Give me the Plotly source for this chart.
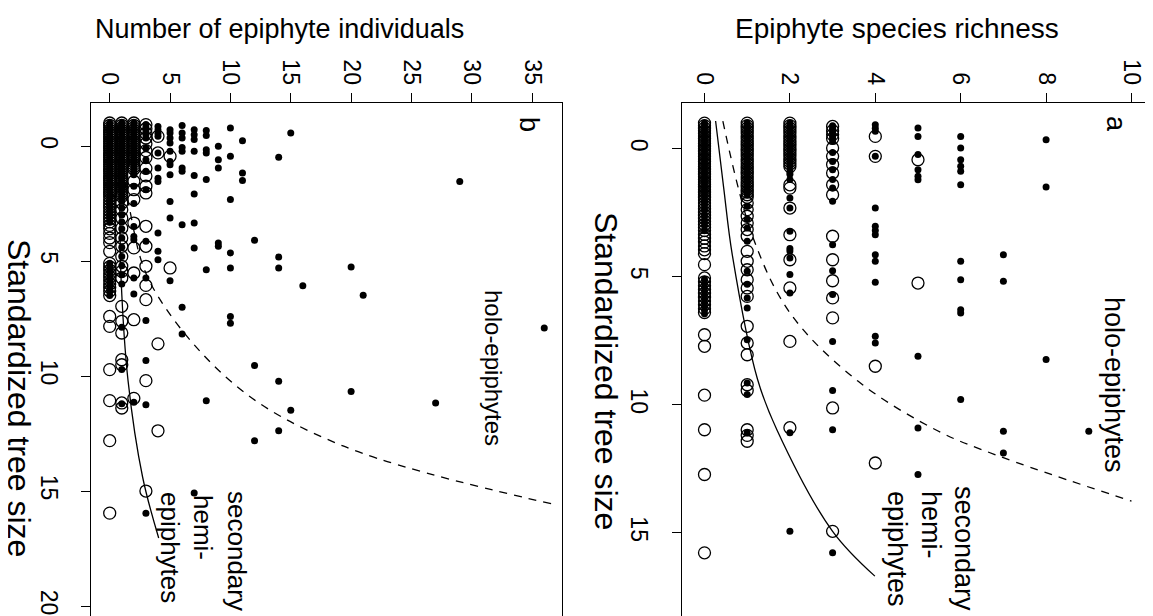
import plotly.graph_objects as go

# ---------------- data ----------------
# Panel a: epiphyte species richness vs standardized tree size
# each entry: (richness, [tree sizes])
a_holo_cols = [
    (0, [-1.0, -0.9, -0.8, -0.7, -0.6, -0.5, -0.4, -0.3, -0.2, -0.1, 0.0, 0.1, 0.2, 0.3, 0.4, 0.5, 0.6, 0.7, 0.8, 0.9,
         1.0, 1.1, 1.2, 1.3, 1.4, 1.5, 1.6, 1.7, 1.8, 1.9, 2.05, 2.2, 2.4, 2.6, 2.8, 3.0, 3.2,
         5.1, 5.25, 5.4, 5.55, 5.7, 5.85, 6.0, 6.15, 6.3, 6.45]),
    (1, [-1.0, -0.9, -0.8, -0.7, -0.6, -0.5, -0.4, -0.3, -0.2, -0.1, 0.0, 0.1, 0.2, 0.3, 0.4, 0.5, 0.6, 0.7, 0.8, 0.9,
         1.0, 1.1, 1.2, 1.3, 1.4, 1.5, 1.6, 1.7, 1.8, 2.25, 2.75, 3.1, 3.62, 4.79, 5.3, 5.83, 6.22, 7.46, 9.15, 9.6, 11.1]),
    (2, [-1.0, -0.9, -0.8, -0.7, -0.6, -0.5, -0.4, -0.3, -0.2, -0.1, 0.0, 0.1, 0.2, 0.3, 0.4, 0.5, 0.6, 0.7, 0.9,
         1.0, 1.2, 1.93, 2.32, 3.23, 3.9, 4.0, 4.27, 4.92, 5.64, 11.1, 14.95]),
    (3, [-0.9, -0.8, -0.7, -0.6, -0.5, -0.4, -0.3, 0.15, 0.5, 0.82, 1.2, 1.54, 2.05, 3.75, 4.77, 5.7, 7.53, 9.45,
         10.98, 15.79]),
    (4, [-0.94, -0.8, -0.68, 0.3, 2.32, 3.03, 3.2, 3.36, 4.14, 4.4, 5.22, 7.33, 7.59]),
    (5, [-0.81, -0.48, 0.23, 0.82, 1.08, 1.21, 8.11, 10.91, 12.73]),
    (6, [-0.48, -0.03, 0.43, 0.69, 0.88, 1.41, 4.4, 5.12, 6.29, 6.42, 9.8]),
    (7, [4.14, 5.18, 11.04, 11.89]),
    (8, [-0.35, 1.5, 8.24]),
    (9, [11.04]),
]
a_hemi_cols = [
    (0, [-1.0, -0.9, -0.8, -0.7, -0.6, -0.5, -0.4, -0.3, -0.2, -0.1, 0.0, 0.1, 0.2, 0.3, 0.4, 0.5, 0.6, 0.7, 0.8, 0.9,
         1.0, 1.1, 1.2, 1.3, 1.4, 1.5, 1.6, 1.7, 1.8, 1.9, 2.0, 2.12, 2.24, 2.36, 2.48, 2.6, 2.72, 2.84, 2.96, 3.08,
         3.2, 3.35, 3.5, 3.65, 3.8, 3.95, 4.1, 4.53, 5.05, 5.2, 5.35, 5.5, 5.65, 5.8, 5.95, 6.1, 6.25, 6.4, 7.27,
         7.72, 9.63, 10.98, 12.73, 15.79]),
    (1, [-1.0, -0.9, -0.8, -0.7, -0.6, -0.5, -0.4, -0.3, -0.2, -0.1, 0.0, 0.1, 0.2, 0.3, 0.4, 0.5, 0.6, 0.7, 0.8, 0.9,
         1.0, 1.1, 1.2, 1.3, 1.4, 1.5, 1.6, 1.7, 1.8, 1.9, 2.12, 2.38, 2.64, 2.9, 3.16, 3.42, 4.01, 4.4, 4.73, 5.12,
         5.44, 5.77, 6.94, 7.59, 8.05, 9.22, 9.45, 10.98, 11.2, 11.43]),
    (2, [-1.0, -0.9, -0.8, -0.7, -0.6, -0.5, -0.4, -0.3, -0.2, -0.1, 0.0, 0.1, 0.2, 0.3, 0.4, 0.5, 0.6, 0.7,
         1.41, 1.54, 2.32, 3.36, 4.34, 5.44, 7.53, 10.9]),
    (3, [-0.87, -0.7, -0.55, -0.4, -0.03, 0.3, 0.62, 0.95, 1.41, 1.8, 3.42, 4.34, 5.16, 5.83, 6.61, 10.13, 14.95]),
    (4, [-0.48, 0.3, 8.5, 12.28]),
    (5, [0.43, 5.25]),
]

# Panel b: number of epiphyte individuals vs standardized tree size
b_holo_cols = [
    (0, [-1.0, -0.9, -0.8, -0.7, -0.6, -0.5, -0.4, -0.3, -0.2, -0.1, 0.0, 0.1, 0.2, 0.3, 0.4, 0.5, 0.6, 0.7, 0.8, 0.9,
         1.0, 1.1, 1.2, 1.3, 1.4, 1.5, 1.6, 1.7, 1.8, 1.9, 2.0, 2.1, 2.25, 2.4, 2.55, 2.7, 2.85, 3.0, 3.15, 3.3,
         5.1, 5.25, 5.4, 5.55, 5.7, 5.85, 6.0, 6.15, 6.3, 6.5]),
    (1, [-1.0, -0.9, -0.8, -0.7, -0.6, -0.5, -0.4, -0.3, -0.2, -0.1, 0.0, 0.1, 0.2, 0.3, 0.4, 0.5, 0.6, 0.7, 0.8, 0.9,
         1.0, 1.1, 1.2, 1.3, 1.4, 1.5, 1.6, 1.7, 1.8, 1.9, 2.0, 2.1, 2.2, 2.4, 2.7, 3.0, 3.3, 3.6, 4.0, 4.4, 4.8,
         5.2, 5.6, 6.0, 7.88, 9.72, 11.2]),
    (2, [-1.0, -0.9, -0.8, -0.7, -0.6, -0.5, -0.4, -0.3, -0.2, -0.1, 0.0, 0.1, 0.2, 0.3, 0.4, 0.5, 0.6, 0.7, 0.8, 0.9,
         1.0, 1.1, 1.2, 1.25, 1.75, 2.5, 3.5, 3.93, 4.07, 5.74, 6.43, 11.14]),
    (3, [-0.93, -0.8, -0.65, -0.5, -0.35, 0.1, 0.6, 1.1, 1.9, 4.14, 5.74, 7.59, 9.33, 11.25, 15.96]),
    (4, [-0.85, -0.7, -0.55, -0.42, 0.3, 0.96, 1.4, 1.54, 3.78, 4.58, 4.94]),
    (5, [-0.71, -0.57, -0.35, -0.13, 0.23, 0.67, 0.81, 1.25, 2.41, 3.13, 5.86]),
    (6, [-0.89, -0.57, -0.35, 0.07, 0.23, 0.96, 1.1, 3.42, 7.01, 8.17]),
    (7, [-0.71, -0.49, -0.28, 0.23, 1.28, 2.09, 3.35, 4.43, 15.09]),
    (8, [-0.67, -0.46, 0.16, 0.3, 1.46, 5.38, 11.07]),
    (9, [0.01, 0.6, 0.96, 4.22, 4.36]),
    (10, [-0.78, 0.45, 2.33, 4.65, 5.3, 7.41, 7.7]),
    (11, [-0.23, 1.17, 1.5]),
    (12, [4.1, 9.54, 12.81]),
    (14, [0.49, 4.83, 5.3, 10.23, 12.38]),
    (15, [-0.57, 11.49]),
    (16, [6.07]),
    (20, [5.26, 10.67]),
    (21, [6.49]),
    (27, [11.17]),
    (29, [1.54]),
    (36, [7.91]),
]
b_hemi_cols = [
    (0, [-1.0, -0.9, -0.8, -0.7, -0.6, -0.5, -0.4, -0.3, -0.2, -0.1, 0.0, 0.1, 0.2, 0.3, 0.4, 0.5, 0.6, 0.7, 0.8, 0.9,
         1.0, 1.1, 1.2, 1.3, 1.4, 1.5, 1.6, 1.7, 1.8, 1.9, 2.0, 2.1, 2.22, 2.34, 2.46, 2.58, 2.7, 2.82, 2.94, 3.06,
         3.18, 3.3, 3.45, 3.6, 3.8, 4.0, 4.2, 4.58, 5.1, 5.25, 5.4, 5.55, 5.7, 5.85, 6.0, 6.15, 6.3, 6.5, 7.41,
         7.84, 9.72, 11.07, 12.81, 15.96]),
    (1, [-1.0, -0.9, -0.8, -0.7, -0.6, -0.5, -0.4, -0.3, -0.2, -0.1, 0.0, 0.1, 0.2, 0.3, 0.4, 0.5, 0.6, 0.7, 0.8, 0.9,
         1.0, 1.1, 1.2, 1.3, 1.4, 1.5, 1.6, 1.7, 1.8, 1.9, 2.0, 2.1, 2.19, 2.48, 2.77, 3.13, 3.57, 4.0, 4.36, 4.8,
         5.23, 5.45, 5.74, 6.97, 7.62, 8.13, 9.29, 9.51, 11.17, 11.39]),
    (2, [-1.0, -0.9, -0.8, -0.7, -0.6, -0.5, -0.4, -0.3, -0.2, -0.1, 0.0, 0.1, 0.2, 0.3, 0.4, 0.5, 0.6, 0.7, 0.8, 0.9,
         1.0, 1.53, 1.9, 2.33, 3.35, 4.43, 5.52, 7.55, 10.97]),
    (3, [-0.93, -0.75, -0.55, -0.35, -0.1, 0.2, 0.5, 0.97, 1.3, 1.75, 2.04, 3.49, 4.36, 5.23, 6.06, 6.68, 10.2, 15.0]),
    (4, [-0.42, 0.3, 8.6, 12.38]),
    (5, [0.45, 5.3]),
]

# fitted curves, points
a_solid_size = [-1.08, 1.54, 4.14, 9.0, 11.0, 14.95, 16.7]
a_solid_val = [0.26, 0.45, 0.65, 1.24, 1.7, 3.0, 3.99]
a_dash_size = [-1.08, 3.49, 6.48, 9.09, 11.03, 11.95, 13.77]
a_dash_val = [0.43, 1.14, 2.03, 3.6, 5.47, 6.8, 10.0]
b_solid_size = [-1.0, 2.7, 5.74, 10.2, 14.4, 17.04]
b_solid_val = [0.6, 0.83, 0.94, 1.52, 2.73, 4.06]
b_dash_size = [-1.0, 2.77, 6.03, 10.38, 13.04, 15.6]
b_dash_val = [0.68, 1.66, 3.45, 10.36, 19.33, 37.0]

a_ticks = [0, 2, 4, 6, 8, 10]
b_ticks = [0, 5, 10, 15, 20, 25, 30, 35]
a_size_ticks = [0, 5, 10, 15]
b_size_ticks = [0, 5, 10, 15, 20]

# ---------------- figure ----------------
W, H = 1153, 616
FONT = "Liberation Sans, Arial, Helvetica, sans-serif"


def flatten(cols):
    xs, ys = [], []
    for v, sizes in cols:
        for s in sizes:
            xs.append(v)
            ys.append(s)
    return xs, ys


fig = go.Figure()

panels = [
    ("x", "y", b_holo_cols, b_hemi_cols, b_solid_size, b_solid_val, b_dash_size, b_dash_val),
    ("x2", "y2", a_holo_cols, a_hemi_cols, a_solid_size, a_solid_val, a_dash_size, a_dash_val),
]
for xa, ya, holo, hemi, ss, sv, ds, dv in panels:
    hx, hy = flatten(hemi)
    fig.add_trace(go.Scatter(x=hx, y=hy, mode="markers", xaxis=xa, yaxis=ya,
                             marker=dict(symbol="circle-open", size=12, color="black",
                                         line=dict(width=1.3, color="black")),
                             showlegend=False, hoverinfo="skip"))
    fx, fy = flatten(holo)
    fig.add_trace(go.Scatter(x=fx, y=fy, mode="markers", xaxis=xa, yaxis=ya,
                             marker=dict(symbol="circle", size=7, color="black"),
                             showlegend=False, hoverinfo="skip"))
    fig.add_trace(go.Scatter(x=sv, y=ss, mode="lines", xaxis=xa, yaxis=ya,
                             line=dict(color="black", width=1.3, shape="spline"),
                             showlegend=False, hoverinfo="skip"))
    fig.add_trace(go.Scatter(x=dv, y=ds, mode="lines", xaxis=xa, yaxis=ya,
                             line=dict(color="black", width=1.3, shape="spline", dash="8px,7px"),
                             showlegend=False, hoverinfo="skip"))

ydom = [0, (H - 95) / H]
common_x = dict(side="top", ticks="outside", ticklen=9, tickwidth=1, tickcolor="black",
                showline=True, linecolor="black", linewidth=1, showgrid=False, zeroline=False,
                tickangle=90, tickfont=dict(family=FONT, size=23, color="black"),
                automargin=False, mirror=False)
common_y = dict(side="left", ticks="outside", ticklen=9, tickwidth=1, tickcolor="black",
                showline=True, linecolor="black", linewidth=1, showgrid=False, zeroline=False,
                tickangle=90, tickfont=dict(family=FONT, size=23, color="black"),
                ticklabelstandoff=13,
                automargin=False, mirror=True, domain=ydom)

fig.update_layout(
    width=W, height=H,
    margin=dict(l=0, r=0, t=0, b=0),
    paper_bgcolor="white", plot_bgcolor="white",
    font=dict(family=FONT, color="black"),
    xaxis=dict(common_x, domain=[83.3 / W, 554 / W], range=[-1.524, 37.47], anchor="y",
               tickvals=b_ticks),
    yaxis=dict(common_y, range=[20.78, -1.87], anchor="x", tickvals=b_size_ticks),
    xaxis2=dict(common_x, domain=[674 / W, 1143 / W], range=[-0.527, 10.457], anchor="y2",
                tickvals=a_ticks),
    yaxis2=dict(common_y, range=[18.57, -1.785], anchor="x2", tickvals=a_size_ticks),
)


def ann(text, px, py, size, angle=0):
    fig.add_annotation(text=text, x=px / W, y=1 - py / H, xref="paper", yref="paper",
                       showarrow=False, textangle=angle, xanchor="center", yanchor="middle",
                       borderpad=0,
                       font=dict(family=FONT, size=size, color="black"))


ann("Number of epiphyte individuals", 271, 21, 27)
ann("Epiphyte species richness", 889, 21, 28)
ann("Standardized tree size", 11, 390, 32, 90)
ann("Standardized tree size", 598, 363, 32, 90)
ann("b", 521, 116, 27, 90)
ann("a", 1108, 116, 27, 90)
ann("holo-epiphytes", 486, 360, 24, 90)
ann("holo-epiphytes", 1106, 377, 27, 90)
ann("secondary", 229, 543, 26, 90)
ann("hemi-", 195, 519, 26, 90)
ann("epiphytes", 162, 539, 26, 90)
ann("secondary", 956, 540, 27, 90)
ann("hemi-", 923, 517, 27, 90)
ann("epiphytes", 889, 541, 27, 90)

fig.write_html("out.html")
